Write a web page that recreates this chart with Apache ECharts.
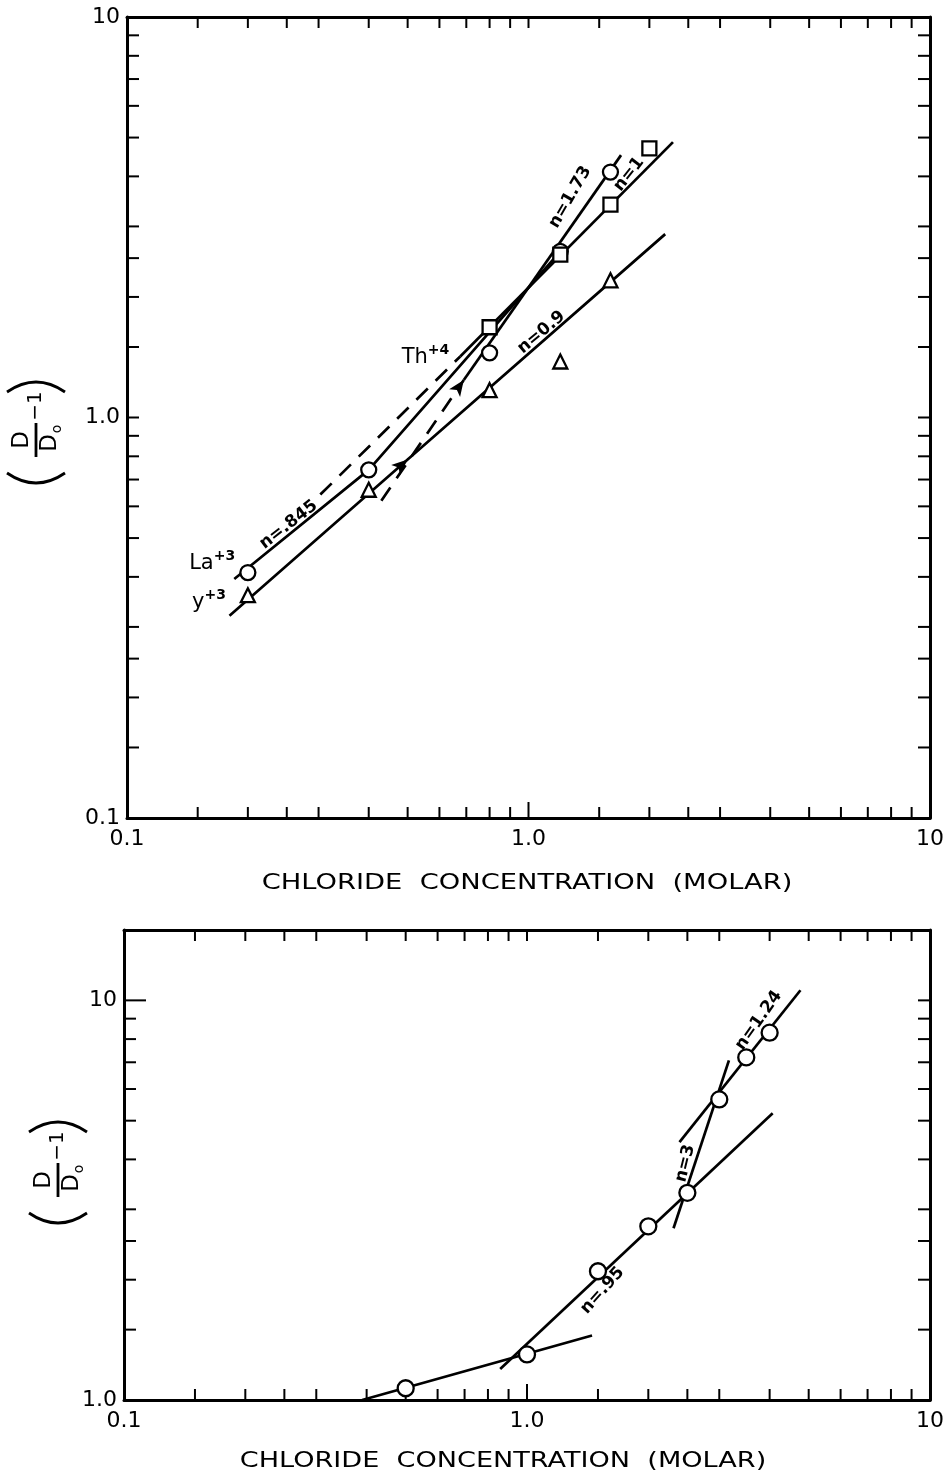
<!DOCTYPE html>
<html>
<head>
<meta charset="utf-8">
<script src="https://cdn.jsdelivr.net/npm/echarts@6/dist/echarts.min.js"></script>
<style>
  html, body { margin: 0; padding: 0; background: #fff; }
  #chart { width: 947px; height: 1479px; }
</style>
</head>
<body>
<div id="chart"></div>
<script>
// ---------- Upper panel: La+3, Th+4, Y+3 ----------
const laConc  = [0.2, 0.4, 0.8, 1.2, 1.6];
const laRatio = [0.41, 0.74, 1.45, 2.6, 4.1];
const thConc  = [0.8, 1.2, 1.6, 2.0];
const thRatio = [1.68, 2.55, 3.4, 4.7];
const yConc   = [0.2, 0.4, 0.8, 1.2, 1.6];
const yRatio  = [0.36, 0.66, 1.17, 1.38, 2.2];

// fitted lines as [concentration, ratio] vertices
const laFit      = [[0.185, 0.395], [0.4, 0.74], [1.2, 2.6]];
const la173Dash  = [[0.43, 0.62], [0.69, 1.24]];
const la173Fit   = [[0.69, 1.24], [1.70, 4.52]];
const thDash     = [[0.303, 0.642], [0.676, 1.42]];
const thFit      = [[0.676, 1.42], [2.29, 4.87]];
const yFit       = [[0.18, 0.32], [0.5, 0.785], [2.19, 2.87]];

// ---------- Lower panel ----------
const lowConc  = [0.5, 1.0, 1.5, 2.0, 2.5, 3.0, 3.5, 4.0];
const lowRatio = [1.07, 1.3, 2.1, 2.72, 3.3, 5.65, 7.2, 8.3];
const lowFitA   = [[0.39, 1.0], [1.45, 1.45]];
const lowFit95  = [[0.858, 1.195], [4.07, 5.22]];
const lowFit3   = [[2.31, 2.69], [3.17, 7.08]];
const lowFit124 = [[2.39, 4.42], [4.77, 10.6]];

// ---------- axes ----------
const xRange = [0.1, 10];
const yRangeTop = [0.1, 10];
const yRangeLow = [1, 15];
const xTickVals = [0.15, 0.2, 0.25, 0.3, 0.4, 0.5, 0.6, 0.7, 0.8, 0.9, 1, 1.5, 2, 2.5, 3, 4, 5, 6, 7, 8, 9];
const yTickValsTop = [0.15, 0.2, 0.25, 0.3, 0.4, 0.5, 0.6, 0.7, 0.8, 0.9, 1, 1.5, 2, 2.5, 3, 4, 5, 6, 7, 8, 9];
const yTickValsLow = [1.5, 2, 2.5, 3, 4, 5, 6, 7, 8, 9, 10];
const xTickLabels = { '0.1': '0.1', '1': '1.0', '10': '10' };
const yTickLabels = { '0.1': '0.1', '1': '1.0', '10': '10' };
const xTitle = 'CHLORIDE  CONCENTRATION  (MOLAR)';

// slope labels: text, anchor [conc, ratio], rotation (deg)
const topNotes = [
  { text: '{m|La}{s|+3}', at: [0.163, 0.433], rot: 0 },
  { text: '{m|y}{s|+3}', at: [0.160, 0.345], rot: 0 },
  { text: '{m|Th}{s|+4}', at: [0.554, 1.41], rot: 0 },
  { text: '{n|n=.845}', at: [0.2527, 0.54], rot: 38 },
  { text: '{n|n=1.73}', at: [1.27, 3.55], rot: 60 },
  { text: '{n|n=1}', at: [1.78, 4.05], rot: 52 },
  { text: '{n|n=0.9}', at: [1.077, 1.63], rot: 40 }
];
const lowNotes = [
  { text: '{n|n=.95}', at: [1.54, 1.88], rot: 48 },
  { text: '{n|n=3}', at: [2.47, 3.91], rot: 76 },
  { text: '{n|n=1.24}', at: [3.76, 8.91], rot: 55 }
];

const FONT = 'DejaVu Sans';
const INK = '#000';

const chart = echarts.init(document.getElementById('chart'), null, { renderer: 'canvas' });

function axisBase(grid) {
  return {
    type: 'log', logBase: 10, gridIndex: grid,
    axisTick: { show: false }, minorTick: { show: false },
    splitLine: { show: false }, minorSplitLine: { show: false },
    axisLine: { show: true, onZero: false, lineStyle: { color: INK, width: 3 } }
  };
}
function xAxes(grid) {
  return [
    Object.assign(axisBase(grid), {
      position: 'bottom', min: xRange[0], max: xRange[1],
      axisLabel: {
        show: true, color: INK, fontFamily: FONT, fontSize: 22, margin: 10,
        showMinLabel: true, showMaxLabel: true,
        formatter: v => xTickLabels[String(+v.toPrecision(3))] || ''
      }
    }),
    Object.assign(axisBase(grid), {
      position: 'top', min: xRange[0], max: xRange[1], axisLabel: { show: false }
    })
  ];
}
function yAxes(grid, range) {
  return [
    Object.assign(axisBase(grid), {
      position: 'left', min: range[0], max: range[1],
      axisLabel: {
        show: true, color: INK, fontFamily: FONT, fontSize: 22, margin: 7,
        showMinLabel: true, showMaxLabel: true,
        formatter: v => yTickLabels[String(+v.toPrecision(3))] || ''
      }
    }),
    Object.assign(axisBase(grid), {
      position: 'right', min: range[0], max: range[1], axisLabel: { show: false }
    })
  ];
}

// inward tick marks on all four sides, placed through the axis scales
function tickSeries(xi, yi, yRange, xVals, yVals) {
  const seg = (x1, y1, x2, y2) => ({ type: 'line', shape: { x1, y1, x2, y2 }, style: { stroke: INK, lineWidth: 2 } });
  return [
    {
      type: 'custom', xAxisIndex: xi, yAxisIndex: yi, silent: true, z: 1,
      data: xVals.map(v => [v, yRange[0]]),
      renderItem(params, api) {
        const v = api.value(0);
        const b = api.coord([v, yRange[0]]);
        const t = api.coord([v, yRange[1]]);
        const L = v === 1 ? 16 : 11;
        return { type: 'group', children: [seg(b[0], b[1], b[0], b[1] - L), seg(t[0], t[1], t[0], t[1] + 11)] };
      }
    },
    {
      type: 'custom', xAxisIndex: xi, yAxisIndex: yi, silent: true, z: 1,
      data: yVals.map(v => [xRange[0], v]),
      renderItem(params, api) {
        const v = api.value(1);
        const l = api.coord([xRange[0], v]);
        const r = api.coord([xRange[1], v]);
        const L = v === 10 && yRange[0] === 1 ? 22 : 12;
        return { type: 'group', children: [seg(l[0], l[1], l[0] + L, l[1]), seg(r[0], r[1], r[0] - 12, r[1])] };
      }
    }
  ];
}

function lineSeries(xi, yi, pts, dashed) {
  return {
    type: 'line', xAxisIndex: xi, yAxisIndex: yi, data: pts, showSymbol: false,
    silent: true, z: 2, animation: false,
    lineStyle: { color: INK, width: 2.7, type: dashed ? [16, 11] : 'solid' }
  };
}

function arrowAt(xi, yi, pt, rot) {
  return {
    type: 'scatter', xAxisIndex: xi, yAxisIndex: yi, data: [pt], silent: true, z: 3,
    symbol: 'arrow', symbolSize: [10, 16], symbolRotate: rot,
    itemStyle: { color: INK, opacity: 1 }
  };
}

function markerSeries(xi, yi, xs, ys, symbol, size) {
  return {
    type: 'scatter', xAxisIndex: xi, yAxisIndex: yi, silent: true, z: 4,
    data: xs.map((x, i) => [x, ys[i]]),
    symbol, symbolSize: size,
    itemStyle: { color: '#fff', borderColor: INK, borderWidth: 2.3, opacity: 1 }
  };
}

function noteSeries(xi, yi, notes) {
  return notes.map(n => ({
    type: 'scatter', xAxisIndex: xi, yAxisIndex: yi, silent: true, z: 5,
    data: [n.at], symbolSize: 1, itemStyle: { color: 'rgba(0,0,0,0)', opacity: 1 },
    label: {
      show: true, position: 'inside', rotate: n.rot, formatter: n.text,
      color: INK, fontFamily: FONT, opacity: 1, textBorderWidth: 0,
      rich: {
        m: { fontSize: 21, color: INK, fontFamily: FONT },
        s: { fontSize: 14, color: INK, fontFamily: FONT, fontWeight: 'bold', padding: [0, 0, 14, 0] },
        n: { fontSize: 17, color: INK, fontFamily: FONT, fontWeight: 'bold' }
      }
    }
  }));
}

// rotated (D/Do - 1) axis title
function ratioTitle(cx, cy) {
  const st = { stroke: INK, lineWidth: 2.8, fill: null };
  const txt = (x, y, text, size) => ({
    type: 'text', x, y,
    style: { text, fill: INK, font: size + 'px "' + FONT + '"', align: 'center', verticalAlign: 'middle' }
  });
  return {
    type: 'group', x: cx, y: cy, rotation: Math.PI / 2,
    children: [
      { type: 'bezierCurve', shape: { x1: -41, y1: -29, x2: -41, y2: 29, cpx1: -61, cpy1: 0 }, style: st },
      { type: 'bezierCurve', shape: { x1: 40, y1: -29, x2: 40, y2: 29, cpx1: 60, cpy1: 0 }, style: st },
      txt(-8, -14, 'D', 23),
      { type: 'line', shape: { x1: -25, y1: 0, x2: 9, y2: 0 }, style: st },
      txt(-11, 14, 'D', 23),
      txt(3, 21, 'o', 14),
      txt(26, 0, '\u2212' + '1', 20)
    ]
  };
}

const titleStyle = { text: xTitle, fill: INK, font: '21px "' + FONT + '"', align: 'center', verticalAlign: 'middle' };

const option = {
  animation: false,
  backgroundColor: '#fff',
  grid: [
    { left: 127, top: 17, width: 810, height: 801 },
    { left: 124, top: 930, width: 810, height: 470 }
  ],
  xAxis: [...xAxes(0), ...xAxes(1)],
  yAxis: [...yAxes(0, yRangeTop), ...yAxes(1, yRangeLow)],
  graphic: [
    ratioTitle(36, 432),
    ratioTitle(58, 1172),
    { type: 'text', x: 527, y: 884, scaleX: 1.3, style: titleStyle },
    { type: 'text', x: 503, y: 1462, scaleX: 1.29, style: titleStyle }
  ],
  series: [
    ...tickSeries(0, 0, yRangeTop, xTickVals, yTickValsTop),
    ...tickSeries(2, 2, yRangeLow, xTickVals, yTickValsLow),
    // upper panel lines
    lineSeries(0, 0, laFit, false),
    lineSeries(0, 0, la173Dash, true),
    lineSeries(0, 0, la173Fit, false),
    lineSeries(0, 0, thDash, true),
    lineSeries(0, 0, thFit, false),
    lineSeries(0, 0, yFit, false),
    arrowAt(0, 0, la173Dash[1], -35),
    arrowAt(0, 0, yFit[1], -49),
    // upper panel markers
    markerSeries(0, 0, laConc, laRatio, 'circle', 15),
    markerSeries(0, 0, thConc, thRatio, 'rect', 14),
    markerSeries(0, 0, yConc, yRatio, 'triangle', 14),
    ...noteSeries(0, 0, topNotes),
    // lower panel
    lineSeries(2, 2, lowFitA, false),
    lineSeries(2, 2, lowFit95, false),
    lineSeries(2, 2, lowFit3, false),
    lineSeries(2, 2, lowFit124, false),
    markerSeries(2, 2, lowConc, lowRatio, 'circle', 16),
    ...noteSeries(2, 2, lowNotes)
  ]
};
chart.setOption(option);
</script>
</body>
</html>
